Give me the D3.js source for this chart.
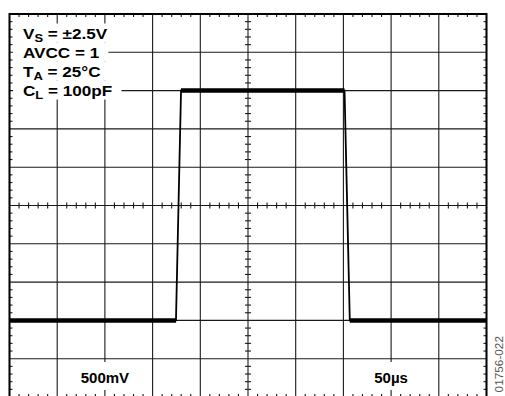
<!DOCTYPE html>
<html lang="en">
<head>
<meta charset="utf-8" />
<title>Scope trace</title>
<script src="https://cdnjs.cloudflare.com/ajax/libs/d3/7.8.5/d3.min.js"></script>
<style>
  body { margin: 0; background: #fff; }
  svg { display: block; font-family: Arial, "Liberation Sans", Helvetica, sans-serif; }
  .grid line { stroke: #1a1a1a; stroke-width: 1.1; }
  .frame { fill: none; stroke: #000; stroke-width: 2; }
  .minor line { stroke: #1a1a1a; stroke-width: 1.1; }
  .note { font-weight: bold; font-size: 14.5px; fill: #000; }
  .scale-label { font-weight: bold; font-size: 15px; fill: #000; }
</style>
</head>
<body>
<script>
    // trace: time in µs, level in volts (500mV/div, 50µs/div)
    const timeUs = [0, 174.5, 179.8, 351.2, 356.7, 500];
    const volts = [-1.5, -1.5, 1.5, 1.5, -1.5, -1.5];

    // test conditions shown top left
    const notes = [
        { main: "V", sub: "S", rest: " = ±2.5V" },
        { main: "AVCC = 1", sub: "", rest: "" },
        { main: "T", sub: "A", rest: " = 25°C" },
        { main: "C", sub: "L", rest: " = 100pF" }
    ];

    // scope settings shown at the bottom, with the division they sit on
    const scaleLabels = ["500mV", "50µs"];
    const scaleLabelTimes = [100, 400];

    const figureId = "01756-022";

    const W = 505, H = 396;
    const svg = d3.select("body").append("svg")
        .attr("width", W)
        .attr("height", H);

    const x = d3.scaleLinear().domain([0, 500]).range([9.5, 486.5]);
    const y = d3.scaleLinear().domain([-2.5, 2.5]).range([397, 14]);

    const majorT = d3.range(0, 501, 50);
    const majorV = d3.range(-2.5, 2.51, 0.5);
    const minorT = d3.range(0, 501, 10).filter(t => t % 50 !== 0);
    const minorV = d3.range(-25, 26, 1).filter(v => v % 5 !== 0).map(v => v / 10);

    // Grid
    const grid = svg.append("g").attr("class", "grid");
    grid.selectAll(".vx").data(majorT).join("line")
        .attr("x1", d => x(d)).attr("x2", d => x(d))
        .attr("y1", y(2.5)).attr("y2", y(-2.5));
    grid.selectAll(".hy").data(majorV).join("line")
        .attr("class", "hy")
        .attr("x1", x(0)).attr("x2", x(500))
        .attr("y1", d => y(d)).attr("y2", d => y(d));

    // Minor ticks on border and center lines
    const tk = 3;
    const minor = svg.append("g").attr("class", "minor");
    minorT.forEach(t => {
        minor.append("line").attr("x1", x(t)).attr("x2", x(t)).attr("y1", y(2.5)).attr("y2", y(2.5) + tk);
        minor.append("line").attr("x1", x(t)).attr("x2", x(t)).attr("y1", y(-2.5) - tk).attr("y2", y(-2.5));
        minor.append("line").attr("x1", x(t)).attr("x2", x(t)).attr("y1", y(0) - tk).attr("y2", y(0) + tk);
    });
    minorV.forEach(v => {
        minor.append("line").attr("x1", x(0)).attr("x2", x(0) + tk).attr("y1", y(v)).attr("y2", y(v));
        minor.append("line").attr("x1", x(500) - tk).attr("x2", x(500)).attr("y1", y(v)).attr("y2", y(v));
        minor.append("line").attr("x1", x(250) - tk).attr("x2", x(250) + tk).attr("y1", y(v)).attr("y2", y(v));
    });

    svg.append("rect").attr("class", "frame")
        .attr("x", x(0)).attr("y", y(2.5))
        .attr("width", x(500) - x(0)).attr("height", y(-2.5) - y(2.5));

    // Trace: thin edges, heavy flat levels
    const pts = timeUs.map((t, i) => [t, volts[i]]);
    const line = d3.line().x(d => x(d[0])).y(d => y(d[1]));
    svg.append("path").datum(pts)
        .attr("d", line)
        .attr("fill", "none").attr("stroke", "#000").attr("stroke-width", 1.8);
    const flats = d3.pairs(pts).filter(([a, b]) => a[1] === b[1]);
    svg.selectAll(".flat").data(flats).join("path")
        .attr("class", "flat")
        .attr("d", line)
        .attr("fill", "none").attr("stroke", "#000").attr("stroke-width", 4.5);

    // Notes with white backing (text is drawn a little wide, like the original)
    const stretch = 1.18;
    const notesG = svg.append("g");
    notes.forEach((n, i) => {
        const g = notesG.append("g");
        const base = 38.5 + i * 19;
        const txt = g.append("text").attr("class", "note")
            .attr("transform", `translate(23,${base}) scale(${stretch},1)`);
        txt.append("tspan").text(n.main);
        if (n.sub) {
            txt.append("tspan").attr("font-size", 11).attr("dy", 3).text(n.sub);
            txt.append("tspan").attr("dy", -3).text(n.rest);
        }
        const bb = txt.node().getBBox();
        g.insert("rect", "text")
            .attr("x", 13).attr("y", base - 15)
            .attr("width", 23 + (bb.x + bb.width) * stretch + 9 - 13).attr("height", 19)
            .attr("fill", "#fff");
    });

    // Bottom scale labels
    scaleLabels.forEach((s, i) => {
        const g = svg.append("g");
        const txt = g.append("text").attr("class", "scale-label")
            .attr("x", x(scaleLabelTimes[i])).attr("y", 383)
            .attr("text-anchor", "middle").text(s);
        const bb = txt.node().getBBox();
        g.insert("rect", "text")
            .attr("x", bb.x - 8).attr("y", 362)
            .attr("width", bb.width + 16).attr("height", 28)
            .attr("fill", "#fff");
    });

    svg.append("text")
        .attr("transform", "translate(503,336) rotate(-90)")
        .attr("text-anchor", "end")
        .attr("font-size", 11.8)
        .attr("fill", "#555")
        .text(figureId);
</script>
</body>
</html>
